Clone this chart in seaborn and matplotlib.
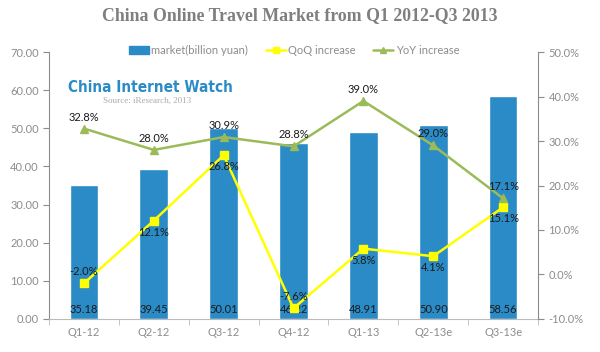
import numpy as np
import pandas as pd
import matplotlib
matplotlib.use("Agg")
import matplotlib.pyplot as plt
import seaborn as sns
from matplotlib.lines import Line2D
from matplotlib.patches import Patch

quarters = ["Q1-12", "Q2-12", "Q3-12", "Q4-12", "Q1-13", "Q2-13e", "Q3-13e"]
market = [35.18, 39.45, 50.01, 46.22, 48.91, 50.90, 58.56]
qoq = [-2.0, 12.1, 26.8, -7.6, 5.8, 4.1, 15.1]
yoy = [32.8, 28.0, 30.9, 28.8, 39.0, 29.0, 17.1]

BAR = "#2b8bc6"
QOQ = "#ffff00"
YOY = "#9bbb59"
GREY = "#8c8c8c"

sns.set_style("white")
plt.rcParams["font.family"] = ["Lato", "DejaVu Sans"]

fig = plt.figure(figsize=(6, 3.52), dpi=100)
ax = fig.add_axes([0.0817, 0.094, 0.815, 0.758])
df = pd.DataFrame({"quarter": quarters, "market": market})
sns.barplot(data=df, x="quarter", y="market", color=BAR, width=0.41,
            saturation=1, ax=ax)
ax.set_ylim(0, 70)
ax.set_yticks(np.arange(0, 71, 10))
ax.set_yticklabels([f"{v:.2f}" for v in np.arange(0, 71, 10)])
ax.set_xlim(-0.5, len(quarters) - 0.5)
ax.set_xlabel("")
ax.set_ylabel("")
for i, v in enumerate(market):
    ax.text(i, 2.6, f"{v:.2f}", ha="center", va="center", fontsize=8, color="#1a1a1a")

ax2 = ax.twinx()
x = np.arange(len(quarters))
ax2.plot(x, qoq, color=QOQ, lw=1.8, marker="s", ms=6, zorder=3)
ax2.plot(x, yoy, color=YOY, lw=1.8, marker="^", ms=6, zorder=3)
ax2.set_ylim(-10, 50)
ax2.set_yticks(np.arange(-10, 51, 10))
ax2.set_yticklabels([f"{v:.1f}%" for v in np.arange(-10, 51, 10)])

for i, v in enumerate(yoy):
    ax2.text(i, v + 2.6, f"{v:.1f}%", ha="center", va="center", fontsize=8, color="#1a1a1a")
for i, v in enumerate(qoq):
    dy = 2.6 if v < 0 else -2.6
    ax2.text(i, v + dy, f"{v:.1f}%", ha="center", va="center", fontsize=8, color="#1a1a1a")

for a in (ax, ax2):
    for s in a.spines.values():
        s.set_visible(False)
    a.tick_params(axis="y", colors=GREY, labelsize=8, length=4, width=0.8, direction="out")
ax.spines["left"].set_visible(True)
ax.spines["left"].set_color(GREY)
ax.spines["bottom"].set_visible(True)
ax.spines["bottom"].set_color("#bbbbbb")
ax2.spines["right"].set_visible(True)
ax2.spines["right"].set_color(GREY)
ax.tick_params(axis="y", left=True)
ax2.tick_params(axis="y", right=True)
ax.set_xticks(x)
ax.set_xticklabels(quarters)
ax.tick_params(axis="x", colors=GREY, labelsize=8, length=0, pad=6)
ax.set_xticks(np.arange(-0.5, len(quarters), 1), minor=True)
ax.tick_params(axis="x", which="minor", length=4, color="#bbbbbb", bottom=True)

handles = [Patch(color=BAR),
           Line2D([], [], color=QOQ, lw=1.8, marker="s", ms=5),
           Line2D([], [], color=YOY, lw=1.8, marker="^", ms=5)]
labels = ["market(billion yuan)", "QoQ increase", "YoY increase"]
fig.legend(handles, labels, loc="center", bbox_to_anchor=(0.49, 0.858), ncol=3,
           frameon=False, fontsize=8, labelcolor=GREY, handlelength=1.8,
           handletextpad=0.2, columnspacing=1.6)

fig.text(0.5, 0.955, "China Online Travel Market from Q1 2012-Q3 2013",
         ha="center", va="center", fontsize=12.8, fontweight="bold",
         color="#7f7f7f", family=["Liberation Serif", "DejaVu Serif"])
fig.text(0.25, 1 - 87 / 352, "China Internet Watch", ha="center", va="center",
         fontsize=11, fontweight="bold", fontstretch="condensed", color="#2b8bc6",
         family=["DejaVu Sans"])
fig.text(0.245, 1 - 101 / 352, "Source: iResearch, 2013", ha="center", va="center",
         fontsize=6.5, color="#aaaaaa", family=["Liberation Serif", "DejaVu Serif"])

fig.savefig("out.png", dpi=100)
